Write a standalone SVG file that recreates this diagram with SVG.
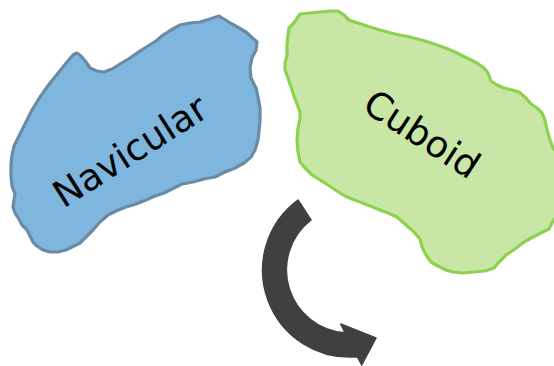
<svg xmlns="http://www.w3.org/2000/svg" width="554" height="366" viewBox="0 0 554 366">
  <style>
    .bone { stroke-width: 3.2; stroke-linejoin: round; }
    .navicular { fill: #7EB6DE; stroke: #6A8BA6; }
    .cuboid { fill: #C8E6A6; stroke: #8CD24F; }
    .label { font-family: "DejaVu Sans", "Liberation Sans", sans-serif; font-size: 37px; fill: #000; text-anchor: middle; }
    .turn { fill: #404040; stroke: #404040; stroke-width: 1.5; stroke-linejoin: round; }
  </style>

  <!-- navicular bone -->
  <g id="navicular">
    <path class="bone navicular" d="M219,16 L232,24 L246,32 L257,42 L256,50 L252,58 L250,68 L251,78 L256,88 L258,97 L260,108 L260,120 L259,131 L258,140 L255,150 L251,157 L244,163 L235,168 L225,172 L215,177 L204,179 L193,182 L182,184 L172,189 L164,193 L155,196 L146,200 L136,204 L126,207 L116,211 L108,215 L100,222 L93,230 L86,237 L80,243 L72,247 L66,250 L58,252 L50,252 L43,250 L37,246 L33,242 L30,236 L27,230 L22,225 L19,219 L15,213 L13,207 L14,200 L15,194 L12,186 L11,176 L11,165 L12,155 L14,146 L19,136 L25,124 L32,110 L40,97 L50,83 L59,72 L67,62 L73,55 L77,53 L81,56 L86,62 L90,68 L97,71 L104,72 L112,69 L120,64 L130,58 L140,51 L148,46 L156,41 L163,35 L171,30 L180,25 L190,23 L200,22 L210,19 Z"/>
    <text class="label" transform="translate(130,151) rotate(-32.5)" x="0" y="13">Navicular</text>
  </g>

  <!-- cuboid bone -->
  <g id="cuboid">
    <path class="bone cuboid" d="M300,14 L310,13 L320,12 L330,11 L338,11 L344,15 L349,20 L358,23 L370,27 L380,30 L395,34 L410,37 L425,41 L437,45 L448,49 L457,53 L467,58 L477,63 L484,68 L488,73 L491,81 L497,85 L504,88 L512,90 L519,92 L526,98 L531,104 L537,108 L542,113 L545,120 L547,130 L550,140 L553,148 L558,155 L558,215 L553,221 L549,229 L541,233 L533,237 L524,242 L515,249 L506,255 L499,262 L494,268 L485,271 L474,272 L463,273 L453,272 L446,270 L438,266 L431,262 L426,255 L422,247 L420,239 L414,232 L406,225 L397,217 L388,213 L380,210 L370,206 L360,202 L352,199 L345,196 L337,191 L328,185 L320,180 L312,175 L305,168 L300,162 L298,152 L297,140 L298,128 L300,119 L300,112 L297,104 L294,96 L291,87 L288,78 L285,70 L285,63 L287,56 L287,45 L288,35 L289,28 L293,24 L296,20 Z"/>
    <text class="label" transform="translate(422,134) rotate(33)" x="0" y="13">Cuboid</text>
  </g>

  <!-- curved rotation arrow -->
  <g id="connectors">
    <path class="turn" d="M298,200 A87,87 0 0,0 357.4,356.7 L361.7,365 L376,338 L340.7,324 L345.2,332.8 A63,63 0 0,1 311,220 Z"/>
  </g>
</svg>
